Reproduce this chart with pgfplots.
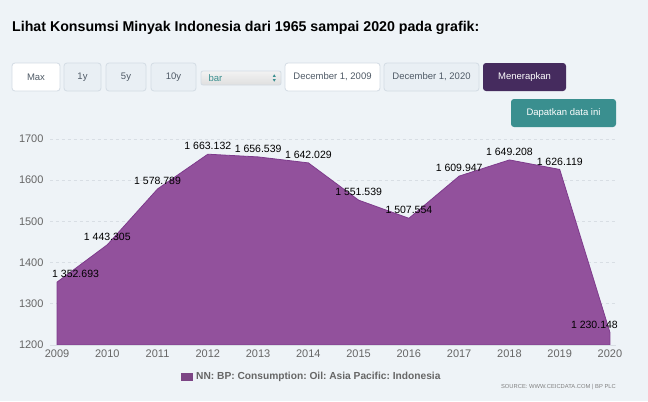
\documentclass[border=0pt]{standalone}
\usepackage{pgfplots}
\pgfplotsset{compat=1.18}
\usepackage{pgfplotstable}
\usepackage{fontspec}
\setmainfont{Liberation Sans}
\frenchspacing
\definecolor{bg}{HTML}{EEF3F7}
\definecolor{areafill}{HTML}{92519C}
\definecolor{arealine}{HTML}{7E3B8C}
\definecolor{gridc}{HTML}{D8DEE4}
\definecolor{ticktxt}{HTML}{666666}
\definecolor{btnborder}{HTML}{D3DCE4}
\definecolor{btnfill}{HTML}{E9EFF4}
\definecolor{btntxt}{HTML}{4F5A66}
\definecolor{applyc}{HTML}{452B5E}
\definecolor{tealc}{HTML}{3A8F8F}
\pgfplotstableread{
year value
2009 1352.693
2010 1443.305
2011 1578.789
2012 1663.132
2013 1656.539
2014 1642.029
2015 1551.539
2016 1507.554
2017 1609.947
2018 1649.208
2019 1626.119
2020 1230.148
}\oiltable
\newcommand{\fs}[1]{\fontsize{#1bp}{#1bp}\selectfont}
\begin{document}
\begin{tikzpicture}[x=1bp,y=1bp]
\useasboundingbox (0,0) rectangle (648,401);
\fill[bg] (0,0) rectangle (648,401);
% title
\node[anchor=west,inner sep=0pt,font=\fs{14.2}\bfseries,text=black] at (12,401-28) {Lihat Konsumsi Minyak Indonesia dari 1965 sampai 2020 pada grafik:};
% buttons
\tikzset{btn/.style={draw=btnborder,line width=0.8bp,rounded corners=3bp}}
\draw[btn,fill=white] (12,401-63) rectangle (60,401-91);
\node[font=\fs{9.5},text=btntxt] at (36,401-77) {Max};
\draw[btn,fill=btnfill] (64,401-63) rectangle (101,401-91);
\node[font=\fs{9.5},text=btntxt] at (82.5,401-77) {1y};
\draw[btn,fill=btnfill] (106,401-63) rectangle (146,401-91);
\node[font=\fs{9.5},text=btntxt] at (126,401-77) {5y};
\draw[btn,fill=btnfill] (151,401-63) rectangle (196,401-91);
\node[font=\fs{9.5},text=btntxt] at (173.5,401-77) {10y};
\draw[draw=btnborder,line width=0.8bp,rounded corners=2bp,top color=white!90!gray,bottom color=gray!25] (201,401-71) rectangle (281,401-85);
\node[anchor=west,font=\fs{9.5},text=tealc] at (205,401-78) {bar};
\fill[tealc] (272.75,401-76.8) -- (275.75,401-76.8) -- (274.25,401-74.3) -- cycle;
\fill[tealc] (272.75,401-79.2) -- (275.75,401-79.2) -- (274.25,401-81.7) -- cycle;
\draw[btn,fill=white] (285,401-63) rectangle (380,401-91);
\node[font=\fs{9.5},text=btntxt] at (332.5,401-77) {December 1, 2009};
\draw[btn,fill=btnfill] (384,401-63) rectangle (479,401-91);
\node[font=\fs{9.5},text=btntxt] at (431.5,401-77) {December 1, 2020};
\fill[applyc,rounded corners=3bp] (483,401-63) rectangle (566,401-91);
\node[font=\fs{9.5},text=white] at (524.5,401-77) {Menerapkan};
\fill[tealc,rounded corners=3bp] (511,401-99) rectangle (616,401-127);
\node[font=\fs{9.5},text=white] at (563.5,401-113) {Dapatkan data ini};
% chart
\begin{axis}[
  at={(50bp,56bp)}, anchor=south west,
  scale only axis, width=566bp, height=206bp,
  xmin=2008.86, xmax=2020.12, ymin=1200, ymax=1700,
  axis line style={draw=none},
  xtick={2009,...,2020}, ytick={1200,1300,...,1700},
  xticklabel style={/pgf/number format/1000 sep={}},
  yticklabel style={/pgf/number format/1000 sep={}},
  /pgf/number format/assume math mode=true,
  tick label style={font=\fs{11},text=ticktxt},
  yticklabel style={xshift=-3bp},
  xticklabel style={yshift=-1bp},
  major tick length=0pt,
  ymajorgrids, grid style={gridc,dashed,line width=0.7bp},
  clip=false,
]
\addplot[fill=areafill,draw=arealine,line width=0.8bp] table[x=year,y=value]{\oiltable} \closedcycle;
\draw[gridc,line width=0.8bp] (axis cs:2008.86,1200) -- (axis cs:2020.12,1200);
\pgfplotsset{lbl/.style={draw=none,mark=none,point meta=y,
  nodes near coords={\pgfmathprintnumber[fixed,precision=3,fixed zerofill,1000 sep={\ },assume math mode=true]{\pgfplotspointmeta}},
  every node near coord/.append style={font=\fs{10.5},text=black,inner sep=0pt,yshift=4bp}}}
\addplot[lbl,restrict x to domain=2010:2019,every node near coord/.append style={anchor=south}] table[x=year,y=value]{\oiltable};
\addplot[lbl,restrict x to domain=2009:2009,every node near coord/.append style={anchor=south west,xshift=-5bp}] table[x=year,y=value]{\oiltable};
\addplot[lbl,restrict x to domain=2020:2020,every node near coord/.append style={anchor=south east,xshift=8bp}] table[x=year,y=value]{\oiltable};
\end{axis}
% legend
\fill[areafill!85!black] (181,401-373) rectangle (193,401-381);
\node[anchor=west,inner sep=0pt,font=\fs{10.2}\bfseries,text=ticktxt] at (196,401-377) {NN: BP: Consumption: Oil: Asia Pacific: Indonesia};
\node[anchor=east,inner sep=0pt,font=\fs{5.8},text=gray] at (616,401-387) {SOURCE: WWW.CEICDATA.COM | BP PLC};
\end{tikzpicture}
\end{document}
